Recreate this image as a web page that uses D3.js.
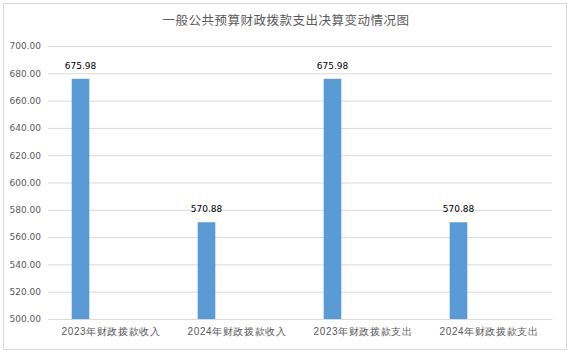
<!DOCTYPE html>
<html>
<head>
<meta charset="utf-8">
<script src="https://cdn.jsdelivr.net/npm/d3@7"></script>
<style>
  body { margin: 0; background: #fff; }
  svg { display: block; font-family: "Noto Sans CJK SC", "DejaVu Sans", sans-serif; }
</style>
</head>
<body>
<div class="canvas"></div>
<script>
const categories = ['2023年财政拨款收入', '2024年财政拨款收入', '2023年财政拨款支出', '2024年财政拨款支出'];
const values = [675.98, 570.88, 675.98, 570.88];
const yTicks = [500, 520, 540, 560, 580, 600, 620, 640, 660, 680, 700];
const series = ['决算数', ''];

const width = 571;
const height = 355;
const margin = {top: 46, right: 19, bottom: 36, left: 48};

const svg = d3.select('.canvas')
    .append('svg')
    .attr('width', width)
    .attr('height', height);

// outer frame
svg.append('rect')
    .attr('x', 3.5).attr('y', 3.5)
    .attr('width', 563).attr('height', 346)
    .attr('fill', '#fff')
    .attr('stroke', '#d9d9d9');

svg.append('text')
    .attr('x', 286)
    .attr('y', 25)
    .attr('text-anchor', 'middle')
    .style('font-size', '12.5px')
    .style('fill', '#595959')
    .style('letter-spacing', '0.5px')
    .text('一般公共预算财政拨款支出决算变动情况图');

const x = d3.scaleBand()
    .domain(categories)
    .range([margin.left, width - margin.right]);

const x1 = d3.scaleBand()
    .domain(series)
    .range([0, x.bandwidth()])
    .paddingInner(0.72)
    .paddingOuter(0.36);

const y = d3.scaleLinear()
    .domain([500, 700])
    .range([height - margin.bottom, margin.top]);

////////// GRIDLINES + Y AXIS //////////
const yAxis = d3.axisLeft(y)
    .tickValues(yTicks)
    .tickSize(-(width - margin.left - margin.right))
    .tickPadding(7)
    .tickFormat(d => d.toFixed(2));

const gY = svg.append('g')
    .attr('transform', `translate(${margin.left}, 0)`)
    .call(yAxis);

gY.select('.domain').remove();
gY.selectAll('line').attr('stroke', '#d9d9d9');
gY.selectAll('text')
    .style('font-size', '9px')
    .style('fill', '#595959')
    .style('font-family', '"DejaVu Sans", sans-serif');

////////// X AXIS //////////
const xAxis = d3.axisBottom(x).tickSize(0).tickPadding(9);

const gX = svg.append('g')
    .attr('transform', `translate(0, ${height - margin.bottom})`)
    .call(xAxis);

gX.select('.domain').attr('stroke', '#d9d9d9');
gX.selectAll('text')
    .style('font-size', '10px')
    .style('fill', '#595959')
    .style('letter-spacing', '0.6px');

////////// BARS //////////
svg.selectAll('.bar-rect')
    .data(values)
    .enter()
    .append('rect')
    .attr('class', 'bar-rect')
    .attr('x', (d, i) => x(categories[i]) + x1(series[0]) + 1)
    .attr('width', x1.bandwidth())
    .attr('y', d => y(d))
    .attr('height', d => y(500) - y(d))
    .attr('fill', '#5b9bd5');

svg.selectAll('.bar-label')
    .data(values)
    .enter()
    .append('text')
    .attr('class', 'bar-label')
    .attr('x', (d, i) => x(categories[i]) + x1(series[0]) + 1 + x1.bandwidth() / 2)
    .attr('y', d => y(d) - 10)
    .attr('text-anchor', 'middle')
    .style('font-size', '9px')
    .style('font-family', '"DejaVu Sans", sans-serif')
    .style('fill', '#000')
    .text(d => d.toFixed(2));
</script>
</body>
</html>
